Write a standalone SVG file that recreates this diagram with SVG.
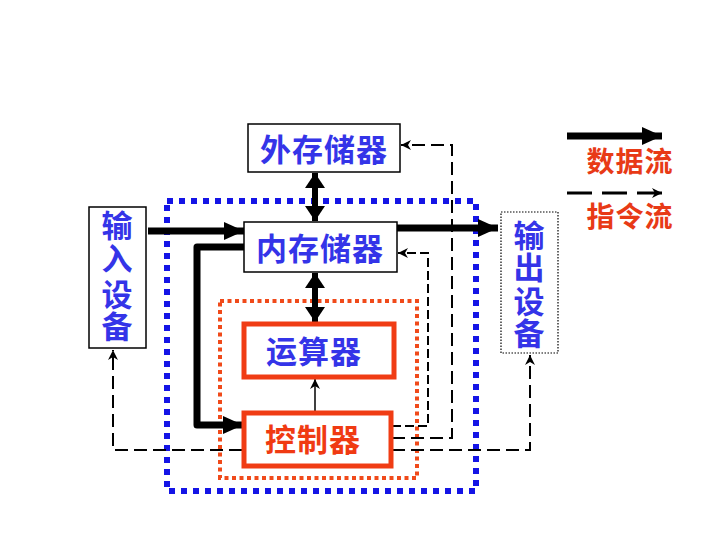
<svg xmlns="http://www.w3.org/2000/svg" width="720" height="540" viewBox="0 0 720 540">
<defs>
<style>
.box{fill:#fff;stroke:#000;stroke-width:1.5}
.obox{fill:#fff;stroke:#000;stroke-width:1.2;stroke-dasharray:1.5 1.5}
.rbox{fill:#fff;stroke:#F03C14;stroke-width:5}
.t{font-family:"Liberation Sans","Noto Sans CJK SC",sans-serif;font-weight:bold;text-anchor:middle}
.tb{fill:#3434E8;font-size:31px}
.tr{fill:#F03A12;font-size:31px}
.tl{fill:#E83A16;font-size:28px}
.thick{fill:none;stroke:#000;stroke-width:7;stroke-linejoin:round}
.dash{fill:none;stroke:#000;stroke-width:2;stroke-dasharray:13 6}
.dash2{fill:none;stroke:#000;stroke-width:2;stroke-dasharray:9 4}
</style>
<marker id="big" markerUnits="userSpaceOnUse" markerWidth="22" markerHeight="20" refX="20" refY="9" orient="auto">
<path d="M0,0 L20,9 L0,18 z" fill="#000"/>
</marker>
<marker id="big2" markerUnits="userSpaceOnUse" markerWidth="22" markerHeight="22" refX="15" refY="10" orient="auto-start-reverse">
<path d="M0,0 L15,10 L0,20 z" fill="#000"/>
</marker>
<marker id="small" markerUnits="userSpaceOnUse" markerWidth="12" markerHeight="12" refX="10" refY="5" orient="auto">
<path d="M0,0 L10,5 L0,10 L3,5 z" fill="#000"/>
</marker>
</defs>

<g id="outer-frame">
<rect x="167" y="201" width="309" height="290" fill="none" stroke="#1414E6" stroke-width="6" stroke-dasharray="6 6"/>
</g>
<g id="cpu-frame">
<rect x="220" y="301" width="197" height="177" fill="none" stroke="#F04A1A" stroke-width="4" stroke-dasharray="4 3.5"/>
</g>

<g id="connectors">
<path class="dash" d="M242,450 H113 V350" marker-end="url(#small)"/>
<path class="dash" d="M392,450 H530 V355" marker-end="url(#small)"/>
<path class="dash" d="M392,438 H452 V145 H401" marker-end="url(#small)"/>
<path class="dash2" d="M392,426 H428 V253 H398" marker-end="url(#small)"/>
<line x1="315" y1="412" x2="315" y2="379" stroke="#000" stroke-width="1.5" marker-end="url(#small)"/>
<line class="thick" x1="148" y1="231" x2="244" y2="231" marker-end="url(#big)"/>
<line class="thick" x1="397" y1="228" x2="498" y2="228" marker-end="url(#big)"/>
<path class="thick" d="M244,247 H197 V425 H243" marker-end="url(#big)"/>
<line x1="315" y1="173" x2="315" y2="221" stroke="#000" stroke-width="6" marker-start="url(#big2)" marker-end="url(#big2)"/>
<line x1="315" y1="273" x2="315" y2="322" stroke="#000" stroke-width="6" marker-start="url(#big2)" marker-end="url(#big2)"/>
</g>

<g id="ext-mem">
<rect class="box" x="248" y="124" width="152" height="48"/>
<text class="t tb" x="324" y="161" letter-spacing="1">外存储器</text>
</g>
<g id="int-mem">
<rect class="box" x="244" y="222" width="153" height="50"/>
<text class="t tb" x="320" y="260" letter-spacing="1">内存储器</text>
</g>
<g id="input">
<rect class="box" x="89" y="207" width="57" height="141"/>
<text class="t tb" x="117" y="237">输</text>
<text class="t tb" x="117" y="270">入</text>
<text class="t tb" x="117" y="306">设</text>
<text class="t tb" x="117" y="338">备</text>
</g>
<g id="output">
<rect class="obox" x="501" y="212" width="57" height="141"/>
<text class="t tb" x="529" y="247">输</text>
<text class="t tb" x="529" y="279">出</text>
<text class="t tb" x="529" y="313">设</text>
<text class="t tb" x="529" y="345">备</text>
</g>
<g id="alu">
<rect class="rbox" x="244" y="324" width="150" height="53"/>
<text class="t tb" x="314" y="363" letter-spacing="1">运算器</text>
</g>
<g id="ctrl">
<rect class="rbox" x="244" y="413" width="147" height="53"/>
<text class="t tr" x="313" y="451" letter-spacing="1">控制器</text>
</g>

<g id="legend">
<line x1="567" y1="136" x2="662" y2="136" stroke="#000" stroke-width="7" marker-end="url(#big)"/>
<text class="t tl" x="630" y="172" letter-spacing="1">数据流</text>
<line x1="567" y1="193" x2="662" y2="193" stroke="#000" stroke-width="3" stroke-dasharray="25 10" marker-end="url(#small)"/>
<text class="t tl" x="630" y="227" letter-spacing="1">指令流</text>
</g>
</svg>
